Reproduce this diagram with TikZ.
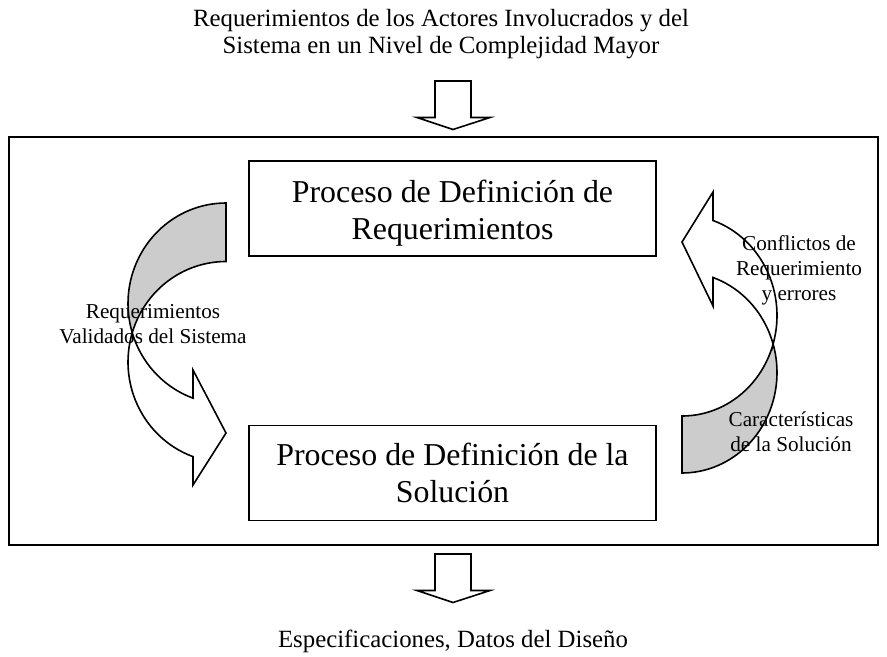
\documentclass[tikz,border=0pt]{standalone}
\usepackage{fontspec}
\setmainfont{Liberation Serif}

\begin{document}
\begin{tikzpicture}[x=0.75pt,y=-0.75pt,
  frame/.style={draw,line width=1.2pt},
  proc/.style={draw,line width=1.2pt,minimum width=305pt,minimum height=71pt},
  proctxt/.style={align=center,font=\fontsize{23.9}{27.75}\selectfont},
  blk/.style={draw,line width=1.2pt,fill=white,line join=miter},
  back/.style={draw,line width=1.2pt,fill=black!20},
  outtxt/.style={align=center,font=\fontsize{18.6}{20.25}\selectfont},
  lbl/.style={align=center,font=\fontsize{15.9}{18.75}\selectfont}]
\useasboundingbox (0,0) rectangle (887,656);

\node[outtxt] (entrada) at (441,34.5) {Requerimientos de los Actores Involucrados y del\\
  Sistema en un Nivel de Complejidad Mayor};
\node[outtxt] (salida) at (453,641) {Especificaciones, Datos del Diseño};

\draw[frame] (9,137) coordinate (fa) rectangle (878,545) coordinate (fb);
\node[proc] (req) at (452.5,208.5) {};
\node[proctxt] (reqtxt) at (452.5,213) {Proceso de Definición de\\Requerimientos};
\node[proc] (sol) at (452.5,473) {};
\node[proctxt] (soltxt) at (452.5,472.5) {Proceso de Definición de la\\Solución};

% block arrows in and out of the frame
\foreach \ya in {81,554}
  \draw[blk,shift={(453,\ya)}] (-18,0) -- (18,0) -- (18,36.5) -- (37,36.5)
    -- (0,48.5) -- (-36,36.5) -- (-18,36.5) -- cycle;

% left curved arrow
\draw[back] plot[variable=\t,domain=270:163.1,samples=40] ({226+98*cos(\t)},{303.5+100.5*sin(\t)})
  -- plot[variable=\t,domain=196.9:270,samples=40] ({226+98*cos(\t)},{362+100.5*sin(\t)}) -- cycle;
\draw[blk] plot[variable=\t,domain=163.1:109.7,samples=30] ({226+98*cos(\t)},{303.5+100.5*sin(\t)})
  -- (193,370) -- (226,433) -- (193,485)
  -- plot[variable=\t,domain=109.7:196.9,samples=30] ({226+98*cos(\t)},{362+100.5*sin(\t)}) -- cycle;

% right curved arrow
\draw[back] plot[variable=\t,domain=90:-16.5,samples=40] ({682+95*cos(\t)},{372.5+100.5*sin(\t)})
  -- plot[variable=\t,domain=16.5:90,samples=40] ({682+95*cos(\t)},{315.5+100.5*sin(\t)}) -- cycle;
\draw[blk] plot[variable=\t,domain=-16.5:-70.96,samples=30] ({682+95*cos(\t)},{372.5+100.5*sin(\t)})
  -- (713,306) -- (682,242) -- (713,192)
  -- plot[variable=\t,domain=-70.96:16.5,samples=30] ({682+95*cos(\t)},{315.5+100.5*sin(\t)}) -- cycle;

\node[lbl] (validados) at (153,324.5) {Requerimientos\\Validados del Sistema};
\node[lbl] (conflictos) at (799,270) {Conflictos de\\Requerimiento\\y errores};
\node[lbl] (caract) at (791,432) {Características\\de la Solución};
\end{tikzpicture}
\end{document}
